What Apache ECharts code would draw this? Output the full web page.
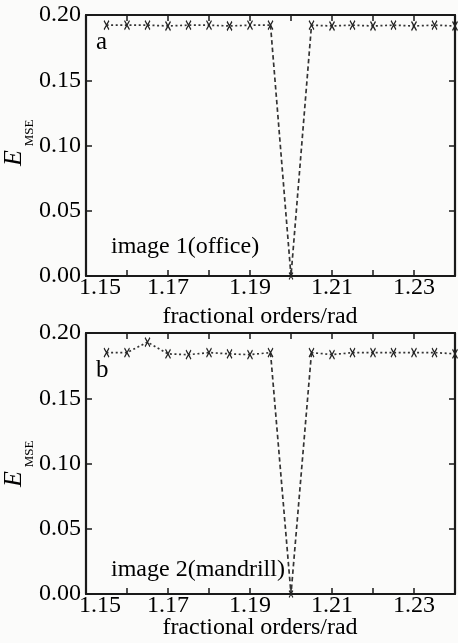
<!DOCTYPE html>
<html>
<head>
<meta charset="utf-8">
<script src="https://cdn.jsdelivr.net/npm/echarts@6/dist/echarts.min.js"></script>
<style>html,body{margin:0;padding:0;background:#fbfbfa;}#c{width:458px;height:643px;}</style>
</head>
<body>
<div id="c"></div>
<script>
// ---- data ----
const orders = [1.155,1.16,1.165,1.17,1.175,1.18,1.185,1.19,1.195,1.20,1.205,1.21,1.215,1.22,1.225,1.23,1.235,1.24];
const emseOffice = [0.1922,0.1922,0.1922,0.1916,0.1922,0.1922,0.1916,0.1922,0.1922,0.0,0.1922,0.1916,0.1922,0.1916,0.1922,0.1916,0.1922,0.1916];
const emseMandrill = [0.185,0.185,0.193,0.184,0.1834,0.185,0.184,0.1834,0.185,0.0,0.185,0.1834,0.185,0.185,0.185,0.185,0.185,0.184];
const xTickLabels = ['1.15','1.17','1.19','1.21','1.23'];
const yTickLabels = ['0.00','0.05','0.10','0.15','0.20'];
const panelLetters = ['a','b'];
const imageNames = ['image 1(office)','image 2(mandrill)'];
const xTitle = 'fractional orders/rad';

const FONT = "'Liberation Serif','Times New Roman',serif";
const INK = '#1a1a1a';
const TXT = '#000';
const LINE = '#333';
const crossPath = 'path://M0,0L6,10M6,0L0,10';

const grids = [
  {left:86, top:15, width:371, height:261},
  {left:86, top:333, width:371, height:261}
];

function xFmt(v){
  const s = v.toFixed(2);
  if (xTickLabels.indexOf(s) < 0) return '';
  if (s === xTickLabels[0]) return '{f|' + s + '}';
  return s;
}
function yFmt(v){
  const s = v.toFixed(2);
  return yTickLabels.indexOf(s) >= 0 ? s : '';
}

const xAxes = [], yAxes = [], series = [];
const datasets = [emseOffice, emseMandrill];
grids.forEach((g, i) => {
  const common = {
    type:'value', gridIndex:i, min:1.15, max:1.24, interval:0.01,
    axisLine:{show:true, onZero:false, lineStyle:{color:INK, width:2.2}},
    axisTick:{show:true, inside:true, length:6, lineStyle:{color:INK, width:1.5}},
    splitLine:{show:false}
  };
  xAxes.push(Object.assign({}, common, {position:'bottom',
    axisLabel:{show:true, formatter:xFmt, fontFamily:FONT, fontSize:24, color:TXT, margin:0,
      rich:{f:{fontFamily:FONT, fontSize:24, color:TXT, padding:[0,0,0,28]}}}}));
  xAxes.push(Object.assign({}, common, {position:'top', axisLabel:{show:false}}));
  const ycommon = {
    type:'value', gridIndex:i, min:0, max:0.2, interval:0.05,
    axisLine:{show:true, onZero:false, lineStyle:{color:INK, width:2.2}},
    axisTick:{show:true, inside:true, length:6, lineStyle:{color:INK, width:1.5}},
    splitLine:{show:false}
  };
  yAxes.push(Object.assign({}, ycommon, {position:'left',
    axisLabel:{show:true, formatter:yFmt, fontFamily:FONT, fontSize:24, color:TXT, margin:5}}));
  yAxes.push(Object.assign({}, ycommon, {position:'right', axisLabel:{show:false}}));

  const vals = datasets[i];
  let minIdx = 0;
  vals.forEach((v, k) => { if (v < vals[minIdx]) minIdx = k; });
  const dotted = orders.map((x, k) => k === minIdx ? [x, null] : [x, vals[k]]);
  const dashed = [minIdx-1, minIdx, minIdx+1].map(k => k === minIdx ?
     {value:[orders[k], vals[k]], symbol:crossPath, symbolSize:[4,7]} :
     {value:[orders[k], vals[k]], symbol:'none'});
  series.push({
    type:'line', xAxisIndex:2*i, yAxisIndex:2*i, data:dotted, connectNulls:false,
    symbol:crossPath, symbolSize:[5,9], showSymbol:true,
    lineStyle:{color:LINE, width:1.7, type:[2,2.6]},
    itemStyle:{color:'none', borderColor:'#222', borderWidth:1.4},
    animation:false, z:3
  });
  series.push({
    type:'line', xAxisIndex:2*i, yAxisIndex:2*i, data:dashed,
    lineStyle:{color:LINE, width:1.7, type:[4.5,3]},
    itemStyle:{color:'none', borderColor:'#222', borderWidth:1.2},
    animation:false, z:2
  });
});

const graphics = [];
const letterY = [42, 370];
const nameY = [247, 570];
const titleY = [317, 628];
const eY = [158, 479];
const subY = [133, 454];
for (let i = 0; i < 2; i++) {
  graphics.push({type:'text', x:96, y:letterY[i], style:{text:panelLetters[i], font:'25px '+FONT, fill:TXT, textVerticalAlign:'middle'}});
  graphics.push({type:'text', x:111, y:nameY[i], style:{text:imageNames[i], font:'24px '+FONT, fill:TXT, textVerticalAlign:'middle'}});
  graphics.push({type:'text', x:260, y:titleY[i], style:{text:xTitle, font:'24px '+FONT, fill:TXT, textAlign:'center', textVerticalAlign:'middle'}});
  graphics.push({type:'text', x:14, y:eY[i], rotation:Math.PI/2, style:{text:'E', font:'italic 26px '+FONT, fill:TXT, textAlign:'center', textVerticalAlign:'middle'}});
  graphics.push({type:'text', x:30, y:subY[i], rotation:Math.PI/2, style:{text:'MSE', font:'13px '+FONT, fill:TXT, textAlign:'center', textVerticalAlign:'middle'}});
}

const chart = echarts.init(document.getElementById('c'), null, {renderer:'canvas'});
chart.setOption({
  backgroundColor:'#fbfbfa',
  animation:false,
  grid:grids,
  xAxis:xAxes,
  yAxis:yAxes,
  series:series,
  graphic:graphics
});
</script>
</body>
</html>
